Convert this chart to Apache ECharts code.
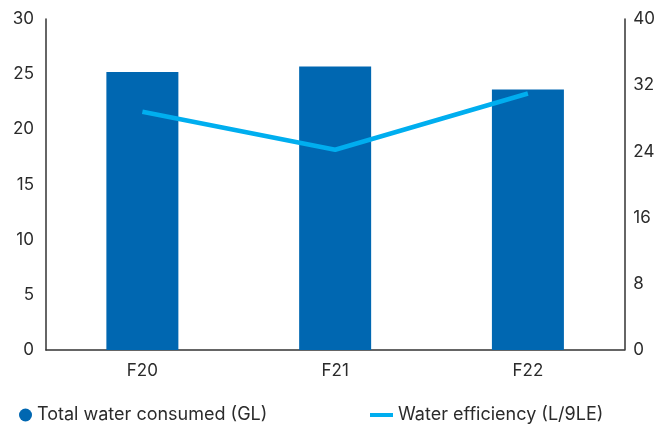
<!DOCTYPE html>
<html>
<head>
<meta charset="utf-8">
<script src="https://cdn.jsdelivr.net/npm/echarts@6/dist/echarts.min.js"></script>
<style>
  html, body { margin: 0; padding: 0; background: #fff; }
  #chart { width: 658px; height: 424px; }
</style>
</head>
<body>
<div id="chart"></div>
<script>
const categories = ['F20', 'F21', 'F22'];
const waterConsumed = [25.2, 25.7, 23.6];     // GL
const waterEfficiency = [28.8, 24.2, 31.0];   // L/9LE
const leftTicks = { min: 0, max: 30, interval: 5 };
const rightTicks = { min: 0, max: 40, interval: 8 };

const FONT = 'Inter, "Noto Sans", sans-serif';
const TEXT = '#2b2b2b';
const BAR = '#0067b1';
const LINE = '#00aeef';

const chart = echarts.init(document.getElementById('chart'), null, { renderer: 'canvas' });
chart.setOption({
  animation: false,
  textStyle: { fontFamily: FONT },
  grid: { left: 46, right: 29, top: 19, bottom: 74, containLabel: false },
  legend: [
    {
      data: [{ name: 'Total water consumed (GL)', icon: 'circle' }],
      left: 14, top: 401, itemWidth: 13, itemHeight: 13, itemGap: 8,
      textStyle: { fontFamily: FONT, fontSize: 18, color: TEXT }
    },
    {
      data: [{ name: 'Water efficiency (L/9LE)', icon: 'rect' }],
      left: 365, top: 401, itemWidth: 23, itemHeight: 4,
      textStyle: { fontFamily: FONT, fontSize: 18, color: TEXT }
    }
  ],
  xAxis: {
    type: 'category',
    data: categories,
    axisLine: { lineStyle: { color: '#333', width: 1.5 } },
    axisTick: { show: false },
    axisLabel: { color: TEXT, fontSize: 17, margin: 12, fontFamily: FONT }
  },
  yAxis: [
    {
      type: 'value', min: leftTicks.min, max: leftTicks.max, interval: leftTicks.interval,
      position: 'left',
      axisLine: { show: true, lineStyle: { color: '#333', width: 1.5 } },
      axisTick: { show: false },
      splitLine: { show: false },
      axisLabel: { color: TEXT, fontSize: 17, margin: 12, fontFamily: FONT }
    },
    {
      type: 'value', min: rightTicks.min, max: rightTicks.max, interval: rightTicks.interval,
      position: 'right',
      axisLine: { show: true, lineStyle: { color: '#333', width: 1.5 } },
      axisTick: { show: false },
      splitLine: { show: false },
      axisLabel: { color: TEXT, fontSize: 17, margin: 9, fontFamily: FONT }
    }
  ],
  series: [
    {
      name: 'Total water consumed (GL)',
      type: 'bar',
      data: waterConsumed,
      yAxisIndex: 0,
      barWidth: 72,
      itemStyle: { color: BAR }
    },
    {
      name: 'Water efficiency (L/9LE)',
      type: 'line',
      data: waterEfficiency,
      yAxisIndex: 1,
      symbol: 'none',
      lineStyle: { color: LINE, width: 4.5 },
      itemStyle: { color: LINE }
    }
  ]
});
</script>
</body>
</html>
